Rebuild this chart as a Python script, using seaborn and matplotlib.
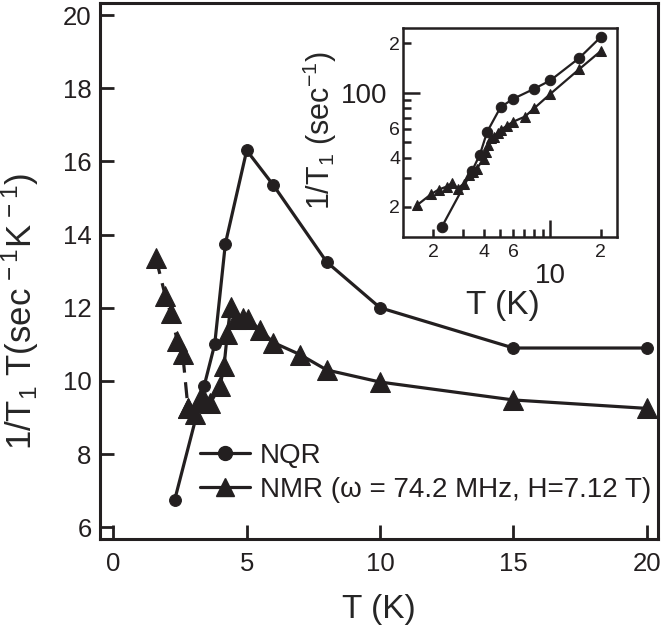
import seaborn as sns
import numpy as np
import matplotlib.pyplot as plt
from matplotlib.lines import Line2D
from matplotlib.ticker import FixedLocator, FuncFormatter

# main panel: 1/T1T vs T
nqr_T = [2.3, 3.4, 3.8, 4.2, 5.0, 6.0, 8.0, 10, 15, 20]
nqr_R = [6.75, 9.85, 11.0, 13.75, 16.3, 15.35, 13.25, 12.0, 10.9, 10.9]

nmr_T = [1.6, 1.95, 2.15, 2.4, 2.6, 2.8, 3.05, 3.27, 3.45, 3.64, 4.0, 4.15,
         4.27, 4.4, 4.6, 4.85, 5.05, 5.5, 6.0, 7.0, 8.0, 10, 15, 20]
nmr_R = [13.35, 12.32, 11.85, 11.1, 10.75, 9.25, 9.1, 9.55, 9.43, 9.4, 9.87, 10.4,
         11.27, 12.03, 11.68, 11.72, 11.68, 11.4, 11.05, 10.72, 10.3, 9.97, 9.48, 9.25]

# inset: 1/T1 vs T (log-log)
ins_nqr_T = [2.25, 3.4, 3.8, 4.2, 5.05, 6.0, 7.95, 10, 14.9, 20]
ins_nqr_R = [15.1, 33, 41.8, 57.6, 81.4, 91.5, 105, 118.5, 162.6, 218]
ins_nmr_T = [1.6, 1.95, 2.15, 2.4, 2.6, 2.8, 3.05, 3.27, 3.45, 3.64, 4.0, 4.15,
             4.27, 4.4, 4.6, 4.85, 5.05, 5.5, 6.0, 7.06, 8.0, 10, 14.9, 20]
ins_nmr_R = [20.5, 24.0, 25.5, 26.6, 28.0, 25.9, 27.8, 31.2, 32.5, 34.2, 39.5, 43.2,
             48.1, 52.9, 53.7, 56.8, 59.0, 62.7, 66.3, 71.3, 80, 98, 139, 179]

ink = '#231f20'
sns.set_style('ticks')
plt.rcParams['font.family'] = ['Liberation Sans', 'DejaVu Sans']
plt.rcParams['mathtext.fontset'] = 'custom'
plt.rcParams['mathtext.rm'] = 'Liberation Sans'
plt.rcParams['mathtext.it'] = 'Liberation Sans'
plt.rcParams['text.color'] = ink
plt.rcParams['axes.edgecolor'] = ink
plt.rcParams['xtick.color'] = ink
plt.rcParams['ytick.color'] = ink

fig = plt.figure(figsize=(6.64, 6.37), dpi=100)
ax = fig.add_axes([0.1506, 0.1538, 0.8404, 0.841])

sns.lineplot(x=nqr_T, y=nqr_R, sort=False, ax=ax, color=ink, lw=2.3,
             marker='o', markersize=8.5, markeredgecolor=ink)
sns.lineplot(x=nmr_T[:6], y=nmr_R[:6], sort=False, ax=ax, color=ink, lw=2.3,
             linestyle=(0, (5, 3)), marker='^', markersize=14, markeredgecolor=ink)
sns.lineplot(x=nmr_T[5:], y=nmr_R[5:], sort=False, ax=ax, color=ink, lw=2.3,
             marker='^', markersize=14, markeredgecolor=ink)

ax.set_xlim(-0.5, 20.42)
ax.set_ylim(5.68, 20.32)
ax.set_xticks([0, 5, 10, 15, 20])
ax.set_yticks([6, 8, 10, 12, 14, 16, 18, 20])
ax.tick_params(direction='in', length=10, width=2, labelsize=18.5)
ax.tick_params(axis='x', pad=9)
ax.tick_params(axis='y', pad=6)
for s in ax.spines.values():
    s.set_linewidth(2.2)

ax.set_xlabel('T (K)', fontsize=24)
ax.xaxis.set_label_coords(0.5, -0.102)
ax.set_ylabel(r'1/T$_1$ T(sec$^{\,-1}$K$^{\,-1}$)', fontsize=25)
ax.yaxis.set_label_coords(-0.105, 0.424)

handles = [
    Line2D([], [], color=ink, lw=2.3, marker='o', markersize=10),
    Line2D([], [], color=ink, lw=2.3, marker='^', markersize=13),
]
ax.legend(handles, ['NQR', 'NMR (\u03c9 = 74.2 MHz, H=7.12 T)'],
          loc='upper left', bbox_to_anchor=(0.179, 0.18), frameon=False,
          fontsize=20, borderpad=0, borderaxespad=0, handlelength=1.8,
          handletextpad=0.35, labelspacing=0.3)

# inset
ins = fig.add_axes([0.607, 0.628, 0.322, 0.328])
sns.lineplot(x=ins_nqr_T, y=ins_nqr_R, sort=False, ax=ins, color=ink, lw=1.6,
             marker='o', markersize=7.5, markeredgecolor=ink)
sns.lineplot(x=ins_nmr_T, y=ins_nmr_R, sort=False, ax=ins, color=ink, lw=1.6,
             marker='^', markersize=7.5, markeredgecolor=ink)
ins.set_xscale('log')
ins.set_yscale('log')
ins.set_xlim(1.32, 25)
ins.set_ylim(13.1, 248)
for s in ins.spines.values():
    s.set_linewidth(1.8)

ins.xaxis.set_major_locator(FixedLocator([10]))
ins.xaxis.set_minor_locator(FixedLocator([2, 3, 4, 5, 6, 7, 8, 9, 20]))
ins.yaxis.set_major_locator(FixedLocator([100]))
ins.yaxis.set_minor_locator(FixedLocator([20, 30, 40, 50, 60, 70, 80, 90, 200]))
ins.xaxis.set_major_formatter(FuncFormatter(lambda v, p: '10'))
ins.yaxis.set_major_formatter(FuncFormatter(lambda v, p: '100'))
xlab = {2: '2', 4: '4', 6: '6', 20: '2'}
ylab = {20: '2', 40: '4', 60: '6', 200: '2'}
ins.xaxis.set_minor_formatter(FuncFormatter(lambda v, p: xlab.get(int(round(v)), '')))
ins.yaxis.set_minor_formatter(FuncFormatter(lambda v, p: ylab.get(int(round(v)), '')))
ins.tick_params(which='major', direction='in', length=12, width=1.8, labelsize=20)
ins.tick_params(which='minor', direction='in', length=6, width=1.8, labelsize=14)
ins.tick_params(axis='x', which='major', pad=19)
ins.tick_params(axis='x', which='minor', pad=5)
ins.tick_params(axis='y', which='major', pad=11)
ins.tick_params(axis='y', which='minor', pad=2)

ins.set_xlabel('T (K)', fontsize=24)
ins.xaxis.set_label_coords(0.467, -0.255)
ins.set_ylabel(r'1/T$_1$ (sec$^{-1}$)', fontsize=22)
ins.yaxis.set_label_coords(-0.30, 0.51)

fig.savefig('out.png', dpi=100)
